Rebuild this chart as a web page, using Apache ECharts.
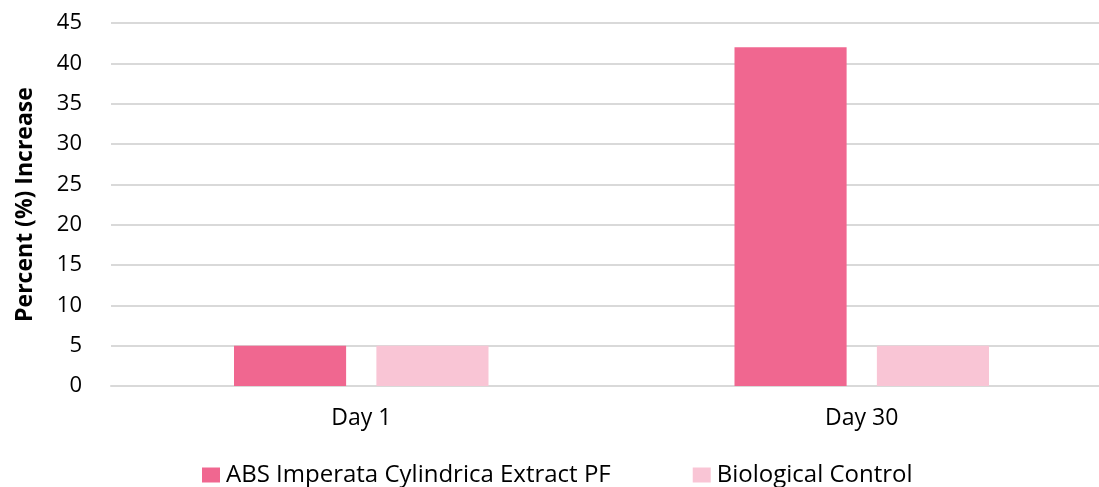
<!DOCTYPE html>
<html lang="en">
<head>
    <meta charset="utf-8">
    <script src="https://cdn.jsdelivr.net/npm/echarts@6/dist/echarts.min.js"></script>
    <style>
        html, body { margin: 0; padding: 0; background: #fff; }
        #main { width: 1099px; height: 487px; }
    </style>
</head>
<body>
<div id="main"></div>
<script>
    var categories = ['Day 1', 'Day 30'];
    var seriesNames = ['ABS Imperata Cylindrica Extract PF', 'Biological Control'];
    var extractValues = [5, 42];
    var controlValues = [5, 5];

    var chart = echarts.init(document.getElementById('main'));
    var font = '"Open Sans", "DejaVu Sans", sans-serif';

    chart.setOption({
        animation: false,
        // plot area runs past the right edge of the picture
        grid: { left: 111, width: 1001, top: 23, bottom: 101, outerBoundsMode: 'none' },
        legend: {
            left: 197,
            top: 458,
            itemWidth: 18,
            itemHeight: 15,
            itemGap: 82,
            icon: 'rect',
            textStyle: { fontFamily: font, fontSize: 24, color: '#000', padding: [0, 0, 0, 1] },
            data: seriesNames
        },
        xAxis: {
            type: 'category',
            data: categories,
            axisLine: { show: true, lineStyle: { color: '#d9d9d9', width: 2 } },
            axisTick: { show: false },
            axisLabel: { margin: 21, fontFamily: font, fontSize: 23, color: '#000' }
        },
        yAxis: {
            type: 'value',
            min: 0,
            max: 45,
            interval: 5,
            name: 'Percent (%) Increase',
            nameLocation: 'middle',
            nameGap: 74,
            nameTextStyle: { fontFamily: font, fontSize: 23, fontWeight: 'bold', color: '#000' },
            axisLine: { show: false },
            axisTick: { show: false },
            axisLabel: { margin: 29, fontFamily: font, fontSize: 22, color: '#000' },
            splitLine: { lineStyle: { color: '#d9d9d9', width: 2 } }
        },
        series: [
            {
                name: seriesNames[0],
                type: 'bar',
                data: extractValues,
                barWidth: '22.4%',
                barGap: '27%',
                itemStyle: { color: '#f06790' }
            },
            {
                name: seriesNames[1],
                type: 'bar',
                data: controlValues,
                barWidth: '22.4%',
                itemStyle: { color: '#f9c5d5' }
            }
        ]
    });
</script>
</body>
</html>
